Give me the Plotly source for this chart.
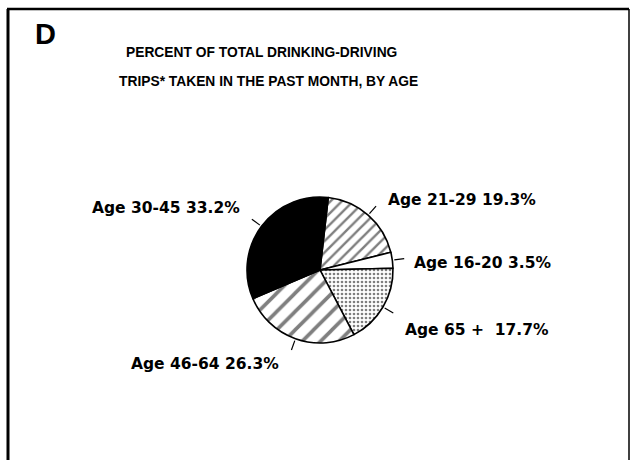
import math
import plotly.graph_objects as go

# ---- data ----
age_groups = ["Age 21-29", "Age 16-20", "Age 65+", "Age 46-64", "Age 30-45"]
percents = [19.3, 3.5, 17.7, 26.3, 33.2]
label_texts = ["Age 21-29 19.3%", "Age 16-20 3.5%", "Age 65 +  17.7%",
               "Age 46-64 26.3%", "Age 30-45 33.2%"]
title_lines = ["PERCENT OF TOTAL DRINKING-DRIVING",
               "TRIPS* TAKEN IN THE PAST MONTH, BY AGE"]
panel_letter = "D"

# ---- styles ----
W, H = 631, 460
CX, CY, R = 320, 270, 73
ROT = 6.5
fill_colors = ["white", "white", "white", "white", "black"]
pat_shapes = ["/", "", ".", "/", ""]
pat_sizes = [8, 8, 4, 13, 8]
pat_solid = [0.3, 0.2, 0.35, 0.28, 0.2]
# label offsets (px) from leader-line end, and anchor
lab_dx = [10, 8, 10, -10, -10]
lab_dy = [-6, 4, 17, 14, -11]
lab_anchor = ["left", "left", "left", "right", "right"]
LABEL_FONT = dict(family="DejaVu Sans", size=15.5, color="black", weight="bold")
TITLE_FONT = dict(family="Liberation Sans, Arial", size=13.8, color="black", weight="bold")


def px(x):
    return x / W


def py(y):
    return 1 - y / H


fig = go.Figure()
fig.add_trace(go.Pie(
    labels=age_groups, values=percents, sort=False, direction="clockwise",
    rotation=ROT, textinfo="none", hoverinfo="label+percent", showlegend=False,
    domain=dict(x=[px(CX - R), px(CX + R)], y=[py(CY + R), py(CY - R)]),
    marker=dict(colors=fill_colors, line=dict(color="black", width=1.6),
                pattern=dict(shape=pat_shapes, size=pat_sizes, solidity=pat_solid,
                             fgcolor="black", fillmode="overlay")),
))

shapes = []
annotations = []
total = sum(percents)
start = ROT
for i, v in enumerate(percents):
    ang = math.radians(start + v / total * 180)
    start += v / total * 360
    sx, sy = math.sin(ang), -math.cos(ang)
    x0, y0 = CX + sx * (R + 2), CY + sy * (R + 2)
    x1, y1 = CX + sx * (R + 12), CY + sy * (R + 12)
    shapes.append(dict(type="line", xref="paper", yref="paper",
                       x0=px(x0), y0=py(y0), x1=px(x1), y1=py(y1),
                       line=dict(color="black", width=1.2)))
    annotations.append(dict(xref="paper", yref="paper", x=px(x1 + lab_dx[i]),
                            y=py(y1 + lab_dy[i]), text=label_texts[i], showarrow=False,
                            xanchor=lab_anchor[i], yanchor="middle", font=LABEL_FONT))

# frame
shapes += [
    dict(type="line", xref="paper", yref="paper", x0=px(8), y0=py(9), x1=px(8), y1=py(470),
         line=dict(color="black", width=3)),
    dict(type="line", xref="paper", yref="paper", x0=px(7), y0=py(9), x1=px(629), y1=py(9),
         line=dict(color="black", width=2.5)),
    dict(type="line", xref="paper", yref="paper", x0=px(629), y0=py(9), x1=px(629), y1=py(470),
         line=dict(color="black", width=1.5)),
]

annotations.append(dict(xref="paper", yref="paper", x=px(45), y=py(34), text=panel_letter,
                        showarrow=False, xanchor="center", yanchor="middle",
                        font=dict(family="Liberation Sans, Arial", size=29, color="black",
                                  weight="bold")))
annotations.append(dict(xref="paper", yref="paper", x=px(261), y=py(52), text=title_lines[0],
                        showarrow=False, xanchor="center", yanchor="middle", font=TITLE_FONT))
annotations.append(dict(xref="paper", yref="paper", x=px(268), y=py(82), text=title_lines[1],
                        showarrow=False, xanchor="center", yanchor="middle", font=TITLE_FONT))

fig.update_layout(width=W, height=H, margin=dict(l=0, r=0, t=0, b=0),
                  paper_bgcolor="white", plot_bgcolor="white",
                  shapes=shapes, annotations=annotations)
fig.write_html("out.html", config={"displayModeBar": False},
               post_script="document.body.style.margin='0';")
